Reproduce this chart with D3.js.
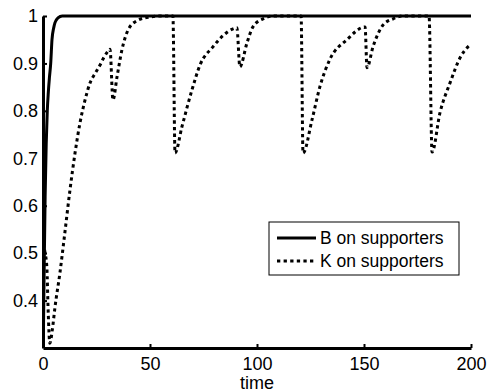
<!DOCTYPE html>
<html>
<head>
<meta charset="utf-8">
<script src="https://cdn.jsdelivr.net/npm/d3@7"></script>
<style>
  body { margin: 0; background: #fff; }
  svg { display: block; font-family: "Liberation Sans", Arial, sans-serif; }
</style>
</head>
<body>
<svg id="chart"></svg>
<script>
// B on supporters: [time, value]
const bSeries = [
  [0, 0.25], [0.5, 0.45], [1, 0.62], [1.5, 0.73], [2, 0.8], [2.5, 0.84],
  [3, 0.87], [3.6, 0.9], [4.2, 0.95], [5, 0.975], [5.6, 0.986], [7, 0.996],
  [9, 1], [200, 1]
];

// K on supporters: [time, value]
const kSeries = [
  [0, 0.52], [1, 0.5], [1.8, 0.47], [2.4, 0.38], [3.2, 0.31], [4.4, 0.34],
  [5.6, 0.386], [7.9, 0.458], [10, 0.535], [12.6, 0.633], [15, 0.712], [17.3, 0.775],
  [19.6, 0.822], [22, 0.859], [24.5, 0.88], [26.6, 0.896], [28.5, 0.913], [30.4, 0.926],
  [31.3, 0.93], [32.7, 0.823], [34.6, 0.872], [36.9, 0.929], [39.7, 0.97], [43.9, 0.99],
  [50, 0.998], [55, 1], [60.7, 1], [61.7, 0.711], [64.9, 0.766], [69.6, 0.844],
  [73.4, 0.897], [79.4, 0.935], [84, 0.958], [88.8, 0.973], [90.6, 0.975], [92, 0.893],
  [95.3, 0.943], [98.1, 0.977], [102.8, 0.994], [108, 1], [120.6, 1], [121.5, 0.711],
  [125.7, 0.781], [129.4, 0.851], [134, 0.908], [142, 0.95], [150.5, 0.977], [151.4, 0.891],
  [154.2, 0.935], [158.9, 0.981], [163.6, 0.994], [168, 1], [180.4, 1], [181.8, 0.713],
  [185.5, 0.796], [190.2, 0.859], [194.9, 0.912], [198.6, 0.935], [200, 0.94]
];

const xTicks = [0, 50, 100, 150, 200];
const yTicks = [0.4, 0.5, 0.6, 0.7, 0.8, 0.9, 1];
const yTickLabels = ["0.4", "0.5", "0.6", "0.7", "0.8", "0.9", "1"];
const legendLabels = ["B on supporters", "K on supporters"];

const width = 489;
const height = 392;
const margin = { top: 16, right: 18, bottom: 44, left: 43 };

const svg = d3.select("#chart")
  .attr("width", width)
  .attr("height", height);

const x = d3.scaleLinear().domain([0, 200]).range([margin.left, width - margin.right]);
const y = d3.scaleLinear().domain([0.3, 1]).range([height - margin.bottom, margin.top]);

// clip lines to the plot area
svg.append("clipPath").attr("id", "clip")
  .append("rect")
  .attr("x", margin.left)
  .attr("y", margin.top - 3)
  .attr("width", width - margin.left - margin.right)
  .attr("height", height - margin.top - margin.bottom + 3);

const line = d3.line()
  .x(d => x(d[0]))
  .y(d => y(d[1]))
  .curve(d3.curveMonotoneX);

const plot = svg.append("g").attr("clip-path", "url(#clip)");

plot.append("path")
  .datum(kSeries)
  .attr("fill", "none")
  .attr("stroke", "#000")
  .attr("stroke-width", 3)
  .attr("stroke-dasharray", "3.3,3.3")
  .attr("d", line);

plot.append("path")
  .datum(bSeries)
  .attr("fill", "none")
  .attr("stroke", "#000")
  .attr("stroke-width", 3)
  .attr("d", line);

// axes, ticks point inward
const xAxis = svg.append("g")
  .attr("transform", `translate(0,${height - margin.bottom})`)
  .call(d3.axisBottom(x).tickValues(xTicks).tickSizeInner(-4).tickSizeOuter(0).tickPadding(9));

const yAxis = svg.append("g")
  .attr("transform", `translate(${margin.left},0)`)
  .call(d3.axisLeft(y).tickValues(yTicks).tickFormat((d, i) => yTickLabels[i])
    .tickSizeInner(-4).tickSizeOuter(0).tickPadding(5));

[xAxis, yAxis].forEach(g => {
  g.select(".domain").attr("stroke", "#000").attr("stroke-width", 3);
  g.selectAll(".tick line").attr("stroke", "#000").attr("stroke-width", 2);
  g.selectAll(".tick text").attr("fill", "#000").style("font-size", "18px");
});

svg.append("text")
  .attr("x", (x(0) + x(200)) / 2)
  .attr("y", 389)
  .attr("text-anchor", "middle")
  .style("font-size", "18px")
  .text("time");

// legend
const legend = svg.append("g").attr("transform", "translate(269,222)");

legend.append("rect")
  .attr("width", 190)
  .attr("height", 53)
  .attr("fill", "#fff")
  .attr("stroke", "#000")
  .attr("stroke-width", 1);

legendLabels.forEach((label, i) => {
  const ly = 16 + i * 23;
  legend.append("line")
    .attr("x1", 8).attr("x2", 47)
    .attr("y1", ly).attr("y2", ly)
    .attr("stroke", "#000")
    .attr("stroke-width", 3)
    .attr("stroke-dasharray", i === 1 ? "3.3,3.3" : null);
  legend.append("text")
    .attr("x", 51)
    .attr("y", ly + 6)
    .style("font-size", "17.5px")
    .text(label);
});
</script>
</body>
</html>
